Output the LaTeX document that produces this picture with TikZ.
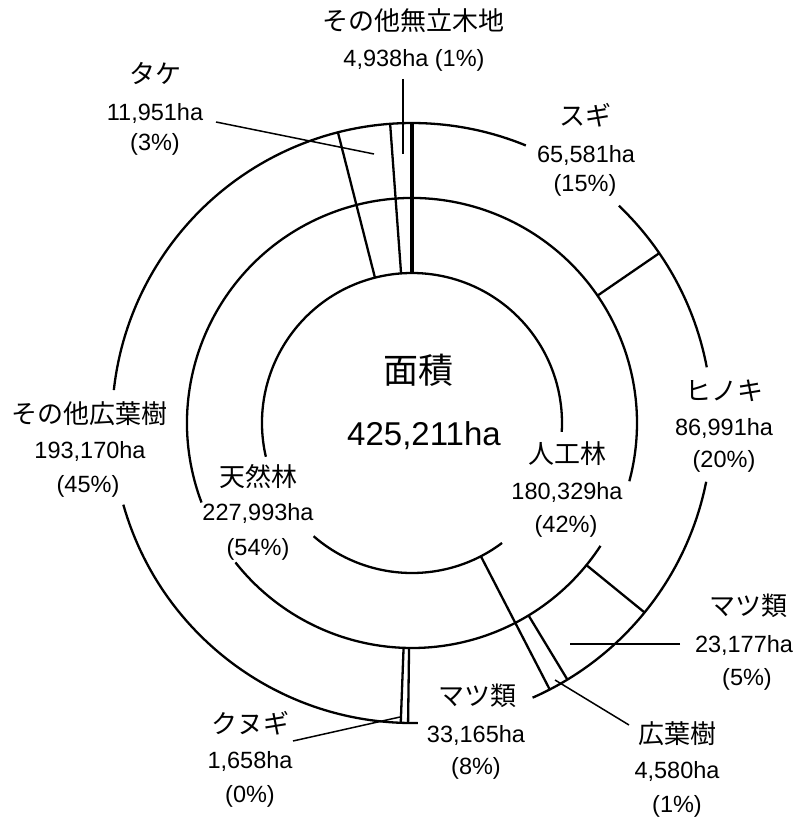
\documentclass[tikz,border=0pt]{standalone}
\usepackage{fontspec}
\setmainfont{Liberation Sans}
\newfontfamily\jp{Noto Sans CJK JP}
\usetikzlibrary{calc}
\newcommand\myarc[3]{\draw[ring] ($(c)+({#2-90}:#1)$) arc[start angle={#2-90}, end angle={#3-90}, radius=#1];}
\newcommand\myradial[4][ring]{\draw[#1] ($(c)+({#2-90}:#3)$) -- ($(c)+({#2-90}:#4)$);}
\begin{document}
\begin{tikzpicture}[x=1pt,y=-1pt,
  ring/.style={line width=2.3pt},
  thickring/.style={line width=3.2pt},
  lead/.style={line width=1.5pt},
  jl/.style={anchor=base, inner sep=0pt, font=\jp\fontsize{26}{30}\selectfont},
  nl/.style={anchor=base, inner sep=0pt, font=\fontsize{23.5}{28}\selectfont},
  jbig/.style={anchor=base, inner sep=0pt, font=\jp\fontsize{35}{40}\selectfont},
  nbig/.style={anchor=base, inner sep=0pt, font=\fontsize{33}{38}\selectfont},
]
\fill[white] (0,0) rectangle (797,818);
\useasboundingbox (0,0) rectangle (797,818);
\coordinate (c) at (412,423);

% outer circle (r=300)
\myarc{300}{-83.7}{22.3}
\myarc{300}{43.6}{79.3}
\myarc{300}{101.3}{156.3}
\myarc{300}{178.9}{254.2}
% middle circle (r=225)
\myarc{225}{-110.7}{105.0}
\myarc{225}{123.1}{231.7}
% inner circle (r=150)
\myarc{150}{-103}{93.4}
\myarc{150}{143.1}{221}

% radial lines through both rings
\myradial[thickring]{0}{150}{300}
\myradial{355.82}{150}{300}
\myradial{345.70}{150}{300}
\myradial{152.67}{150}{300}
% radial lines in outer ring only
\myradial{55.52}{225}{300}
\myradial{129.17}{225}{300}
\myradial{148.80}{225}{300}
\myradial{180.75}{225}{300}
\myradial{182.15}{225}{300}

% labels
\node[jl] (sonota1) at (413,31) {その他無立木地};
\node[nl] (sonota2) at (414,67) {4,938ha (1\%)};
\node[jl] (take1) at (155,84) {タケ};
\node[nl] (take2) at (155,121) {11,951ha};
\node[nl] (take3) at (155,151) {(3\%)};
\node[jl] (sugi1) at (585,126) {スギ};
\node[nl] (sugi2) at (586,163) {65,581ha};
\node[nl] (sugi3) at (585,192) {(15\%)};
\node[jl] (hinoki1) at (724,400) {ヒノキ};
\node[nl] (hinoki2) at (724,435) {86,991ha};
\node[nl] (hinoki3) at (724,467) {(20\%)};
\node[jbig] (men1) at (418,383) {面積};
\node[nbig] (men2) at (424,445) {425,211ha};
\node[jl] (jinko1) at (567,463) {人工林};
\node[nl] (jinko2) at (567,499) {180,329ha};
\node[nl] (jinko3) at (566,532) {(42\%)};
\node[jl] (tennen1) at (258,486) {天然林};
\node[nl] (tennen2) at (258,520) {227,993ha};
\node[nl] (tennen3) at (258,555) {(54\%)};
\node[jl] (kouyou1) at (89,423) {その他広葉樹};
\node[nl] (kouyou2) at (90,458) {193,170ha};
\node[nl] (kouyou3) at (88,492) {(45\%)};
\node[jl] (matsuR1) at (748,615) {マツ類};
\node[nl] (matsuR2) at (744,652) {23,177ha};
\node[nl] (matsuR3) at (747,685) {(5\%)};
\node[jl] (hiro1) at (677,743) {広葉樹};
\node[nl] (hiro2) at (677,778) {4,580ha};
\node[nl] (hiro3) at (677,812) {(1\%)};
\node[jl] (matsuB1) at (477,705) {マツ類};
\node[nl] (matsuB2) at (476,742) {33,165ha};
\node[nl] (matsuB3) at (476,774) {(8\%)};
\node[jl] (kunugi1) at (250,733) {クヌギ};
\node[nl] (kunugi2) at (250,768) {1,658ha};
\node[nl] (kunugi3) at (250,802) {(0\%)};

% leader lines
\coordinate (sonotaL) at (403,79);  \coordinate (sonotaP) at (403,154);
\coordinate (takeL) at (216,122);   \coordinate (takeP) at (374,154);
\coordinate (matsuRL) at (680,644); \coordinate (matsuRP) at (570,644);
\coordinate (hiroL) at (629,725);   \coordinate (hiroP) at (555,680);
\coordinate (kunugiL) at (293,741); \coordinate (kunugiP) at (400,717);
\draw[lead] (sonotaL) -- (sonotaP);
\draw[lead] (takeL) -- (takeP);
\draw[lead] (matsuRL) -- (matsuRP);
\draw[lead] (hiroL) -- (hiroP);
\draw[lead] (kunugiL) -- (kunugiP);
\end{tikzpicture}
\end{document}
